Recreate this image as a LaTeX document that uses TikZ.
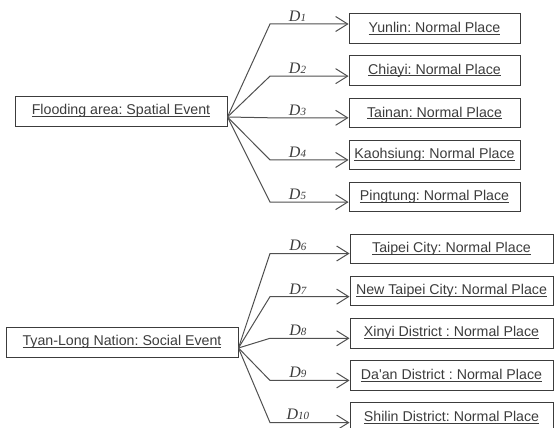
\documentclass[tikz,border=0pt]{standalone}
\usepackage{fontspec}
\setmainfont{Liberation Sans}
\newfontfamily\labelfont{Liberation Serif}
\usetikzlibrary{arrows.meta,positioning}
\frenchspacing
\definecolor{inkgray}{RGB}{60,60,60}
\definecolor{linegray}{RGB}{80,80,80}
\newsavebox{\ulinebox}
\newcommand{\uname}[1]{\sbox{\ulinebox}{#1}\rlap{\rule[-1.8pt]{\wd\ulinebox}{0.7pt}}\usebox{\ulinebox}}
\newcommand{\dnum}[1]{{\labelfont\itshape\fontsize{16}{18}\selectfont D\fontsize{11}{12}\selectfont #1}}
\tikzset{
  event box/.style={
    rectangle, draw=inkgray, line width=0.9pt, text=inkgray,
    minimum height=30pt, inner sep=0pt,
    font=\fontsize{14.2}{16}\selectfont
  },
  place box/.style={
    rectangle, draw=inkgray, line width=0.9pt, text=inkgray,
    minimum height=29.5pt, inner sep=0pt,
    font=\fontsize{14.2}{16}\selectfont
  },
  link/.style={line width=1pt, linegray, -{Straight Barb[length=12pt,width=15pt,line width=1pt]}},
  dist/.style={above, pos=0.35, inner sep=2pt, text=inkgray}
}

\begin{document}
\begin{tikzpicture}[x=1pt, y=1pt, node distance=11.75pt]
    \useasboundingbox (0,0) rectangle (555,-428);
    \coordinate (fork) at (270,0);

    % spatial event
    \node[event box, minimum width=212pt] (flood) at (121,-111) {\uname{Flooding area: Spatial Event}};
    \node[place box, minimum width=171pt] (yunlin) at (434.5,-28.5) {\uname{Yunlin: Normal Place}};
    \node[place box, minimum width=171pt, below=of yunlin] (chiayi) {\uname{Chiayi: Normal Place}};
    \node[place box, minimum width=171pt, below=of chiayi] (tainan) {\uname{Tainan: Normal Place}};
    \node[place box, minimum width=171pt, below=of tainan] (kaohsiung) {\uname{Kaohsiung: Normal Place}};
    \node[place box, minimum width=171pt, below=of kaohsiung] (pingtung) {\uname{Pingtung: Normal Place}};

    \draw[link] ([yshift=-6pt]flood.east) -- ([yshift=4.5pt]yunlin.west -| fork) -- node[dist] {\dnum{1}} ([yshift=4.5pt]yunlin.west);
    \draw[link] ([yshift=-6pt]flood.east) -- ([yshift=-5.5pt]chiayi.west -| fork) -- node[dist] {\dnum{2}} ([yshift=-5.5pt]chiayi.west);
    \draw[link] ([yshift=-6pt]flood.east) -- ([yshift=-5pt]tainan.west -| fork) -- node[dist] {\dnum{3}} ([yshift=-5pt]tainan.west);
    \draw[link] ([yshift=-6pt]flood.east) -- ([yshift=-5pt]kaohsiung.west -| fork) -- node[dist] {\dnum{4}} ([yshift=-5pt]kaohsiung.west);
    \draw[link] ([yshift=-6pt]flood.east) -- ([yshift=-5pt]pingtung.west -| fork) -- node[dist] {\dnum{5}} ([yshift=-5pt]pingtung.west);

    % social event
    \node[event box, minimum width=232pt] (tyanlong) at (122,-342) {\uname{Tyan-Long Nation: Social Event}};
    \node[place box, minimum width=203pt] (taipei) at (451.5,-249) {\uname{Taipei City: Normal Place}};
    \node[place box, minimum width=203pt, below=of taipei] (newtaipei) {\uname{New Taipei City: Normal Place}};
    \node[place box, minimum width=203pt, below=of newtaipei] (xinyi) {\uname{Xinyi District : Normal Place}};
    \node[place box, minimum width=203pt, below=of xinyi] (daan) {\uname{Da\textquotesingle an District : Normal Place}};
    \node[place box, minimum width=203pt, below=of daan] (shilin) {\uname{Shilin District: Normal Place}};

    \draw[link] ([yshift=-6pt]tyanlong.east) -- ([yshift=-4.5pt]taipei.west -| fork) -- node[dist] {\dnum{6}} ([yshift=-4.5pt]taipei.west);
    \draw[link] ([yshift=-6pt]tyanlong.east) -- ([yshift=-5.5pt]newtaipei.west -| fork) -- node[dist] {\dnum{7}} ([yshift=-5.5pt]newtaipei.west);
    \draw[link] ([yshift=-6pt]tyanlong.east) -- ([yshift=-5pt]xinyi.west -| fork) -- node[dist] {\dnum{8}} ([yshift=-5pt]xinyi.west);
    \draw[link] ([yshift=-6pt]tyanlong.east) -- ([yshift=-5pt]daan.west -| fork) -- node[dist] {\dnum{9}} ([yshift=-5pt]daan.west);
    \draw[link] ([yshift=-6pt]tyanlong.east) -- ([yshift=-5pt]shilin.west -| fork) -- node[dist] {\dnum{10}} ([yshift=-5pt]shilin.west);
\end{tikzpicture}
\end{document}
